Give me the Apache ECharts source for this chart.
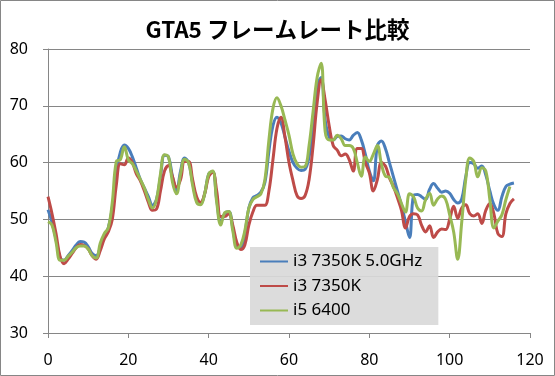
<!DOCTYPE html>
<html>
<head>
<meta charset="utf-8">
<script src="https://cdn.jsdelivr.net/npm/echarts@6/dist/echarts.min.js"></script>
<style>
  html, body { margin: 0; padding: 0; background: #fff; }
  #chart { width: 555px; height: 376px; }
</style>
</head>
<body>
<div id="chart"></div>
<script>
// 時間(秒)
const seconds = [
  0, 1, 2, 3, 4, 5, 6, 7, 8, 9, 10, 11, 12, 13, 14, 15, 16, 17, 18, 19,
  20, 21, 22, 23, 24, 25, 26, 27, 28, 29, 30, 31, 32, 33, 34, 35, 36, 37, 38, 39,
  40, 41, 42, 43, 44, 45, 46, 47, 48, 49, 50, 51, 52, 53, 54, 55, 56, 57, 58, 59,
  60, 61, 62, 63, 64, 65, 66, 67, 68, 69, 70, 71, 72, 73, 74, 75, 76, 77, 78, 79,
  80, 81, 82, 83, 84, 85, 86, 87, 88, 89, 90, 91, 92, 93, 94, 95, 96, 97, 98, 99,
  100, 101, 102, 103, 104, 105, 106, 107, 108, 109, 110, 111, 112, 113, 114, 115, 116
]

const seriesNames = ['i3 7350K 5.0GHz', 'i3 7350K', 'i5 6400']

// i3 7350K 5.0GHz
const fpsOc = [
  51.7, 49.5, 46.5, 43.3, 42.8, 43.6, 44.5, 45.5, 46.1, 46.0, 45.2, 44.0, 43.6, 45.0, 47.0, 48.5, 52.0, 58.5, 61.8, 63.1,
  62.5, 61.0, 59.0, 57.0, 55.5, 54.0, 52.5, 53.5, 57.5, 61.3, 61.0, 57.5, 55.0, 58.5, 60.8, 60.0, 56.5, 53.5, 52.8, 54.5,
  58.0, 58.4, 53.5, 49.5, 51.0, 51.4, 48.5, 45.2, 45.0, 47.5, 52.0, 53.8, 54.2, 54.8, 56.5, 62.0, 66.5, 68.0, 67.0, 64.5,
  62.0, 60.0, 59.0, 58.6, 58.8, 61.0, 66.0, 73.5, 75.0, 67.5, 64.5, 64.0, 64.6, 64.7, 64.2, 64.0, 64.8, 65.3, 64.0, 61.5,
  58.5, 56.8, 63.0, 63.8, 62.5, 60.0, 57.5, 55.0, 52.5, 49.6, 46.8, 54.2, 54.4, 54.0, 53.5, 55.3, 56.3, 55.5, 54.8, 55.0,
  54.6, 53.5, 52.9, 53.6, 57.5, 60.0, 59.8, 59.0, 59.4, 57.8, 55.0, 52.6, 51.6, 54.0, 55.8, 56.2, 56.4
]

// i3 7350K
const fpsStock = [
  54.0, 51.0, 47.5, 43.5, 42.2, 43.0, 44.0, 45.0, 45.6, 45.4, 44.8, 43.6, 43.0, 44.5, 46.5, 47.8, 50.0, 56.0, 59.8, 59.6,
  60.8, 60.0, 58.0, 56.8, 55.0, 53.0, 51.6, 51.8, 55.0, 58.5, 59.5, 57.5, 55.7, 57.0, 60.2, 60.2, 57.0, 54.0, 53.0, 54.5,
  57.5, 58.3, 55.0, 50.5, 50.5, 51.0, 49.0, 46.0, 44.7, 45.5, 49.0, 51.3, 52.5, 52.5, 52.5, 55.0, 60.5, 66.0, 68.0, 64.5,
  60.0, 56.8, 54.2, 53.7, 54.2, 57.0, 63.0, 70.5, 74.6, 71.0, 66.5, 63.0, 62.2, 61.2, 61.5, 60.5, 58.5, 62.5, 62.5, 60.0,
  58.2, 55.0, 57.0, 60.0, 59.4, 57.3, 55.8, 53.8, 51.6, 48.5, 50.5, 51.0, 50.8, 49.0, 47.8, 48.9, 46.8, 47.8, 48.3, 48.2,
  50.0, 52.3, 50.2, 52.0, 52.6, 51.0, 50.6, 51.0, 49.3, 51.6, 52.8, 51.0, 47.5, 47.0, 51.0, 52.8, 53.6
]

// i5 6400
const fpsI5 = [
  49.6, 49.0, 46.0, 42.8, 42.8, 43.5, 44.2, 45.0, 45.3, 45.3, 44.8, 43.6, 43.2, 45.8, 47.5, 48.5, 53.0, 60.2, 60.5, 62.8,
  60.5, 59.8, 58.5, 57.0, 55.5, 53.5, 52.0, 53.5, 58.0, 61.4, 61.0, 56.5, 54.5, 58.0, 60.6, 60.0, 56.0, 53.0, 52.6, 54.5,
  58.0, 58.5, 53.0, 49.0, 51.2, 51.4, 48.0, 44.9, 45.5, 48.0, 52.0, 53.5, 54.0, 54.5, 57.0, 64.0, 69.5, 71.4, 70.0, 67.5,
  64.8, 61.5, 59.8, 59.2, 59.3, 63.0, 69.0, 75.0, 77.5, 65.5, 64.0, 64.0, 64.8, 64.2, 63.0, 63.0, 62.5, 60.0, 57.6, 61.0,
  60.2, 61.5, 63.0, 59.8, 57.6, 57.4, 55.6, 54.5, 52.8, 51.3, 54.5, 54.0, 52.0, 51.5, 53.5, 54.6, 52.5, 53.6, 54.1, 53.5,
  50.8, 47.8, 43.0, 49.5, 57.0, 60.8, 60.2, 57.5, 59.1, 58.5, 53.5, 48.5, 49.7, 50.8, 53.5, 55.8
]

const colors = ['#4a7ebb', '#be4b48', '#98b954']
const font = "'Noto Sans', 'Noto Sans CJK JP', sans-serif"

function pairs(values) {
  return values.map((v, i) => [seconds[i], v])
}

const chart = echarts.init(document.getElementById('chart'))

chart.setOption({
  animation: false,
  color: colors,
  title: {
    text: 'GTA5 フレームレート比較',
    left: 'center',
    top: 13,
    textStyle: {
      fontFamily: "'Noto Sans CJK JP', sans-serif",
      fontSize: 22.5,
      fontWeight: 'bold',
      color: '#000'
    }
  },
  graphic: [{
    type: 'rect',
    shape: { x: 0.5, y: 0.5, width: 554, height: 375 },
    style: { fill: 'none', stroke: '#868686', lineWidth: 1 },
    silent: true
  }],
  grid: {
    left: 48,
    right: 25,
    top: 49,
    bottom: 43
  },
  legend: {
    data: seriesNames,
    orient: 'vertical',
    left: 250,
    top: 247,
    padding: [6, 16, 6, 10],
    itemGap: 7.5,
    itemWidth: 28,
    itemHeight: 17,
    backgroundColor: 'rgba(217,217,217,0.93)',
    icon: 'path://M0,7.5 L28,7.5 L28,9.5 L0,9.5 Z',
    textStyle: {
      fontFamily: font,
      fontSize: 17,
      color: '#000'
    }
  },
  xAxis: {
    type: 'value',
    min: 0,
    max: 120,
    interval: 20,
    axisLine: { lineStyle: { color: '#868686' } },
    axisTick: { show: true, length: 5, lineStyle: { color: '#868686' } },
    axisLabel: { margin: 19, fontFamily: font, fontSize: 16, color: '#000' },
    splitLine: { show: false }
  },
  yAxis: {
    type: 'value',
    min: 30,
    max: 80,
    interval: 10,
    axisLine: { show: true, lineStyle: { color: '#868686' } },
    axisTick: { show: true, length: 5, lineStyle: { color: '#868686' } },
    axisLabel: { margin: 20, fontFamily: font, fontSize: 16, color: '#000' },
    splitLine: { lineStyle: { color: '#868686' } }
  },
  series: [
    { name: seriesNames[0], type: 'line', data: pairs(fpsOc) },
    { name: seriesNames[1], type: 'line', data: pairs(fpsStock) },
    { name: seriesNames[2], type: 'line', data: pairs(fpsI5) }
  ].map(s => Object.assign(s, {
    smooth: 0.4,
    showSymbol: false,
    lineStyle: { width: 3 }
  }))
})
</script>
</body>
</html>
